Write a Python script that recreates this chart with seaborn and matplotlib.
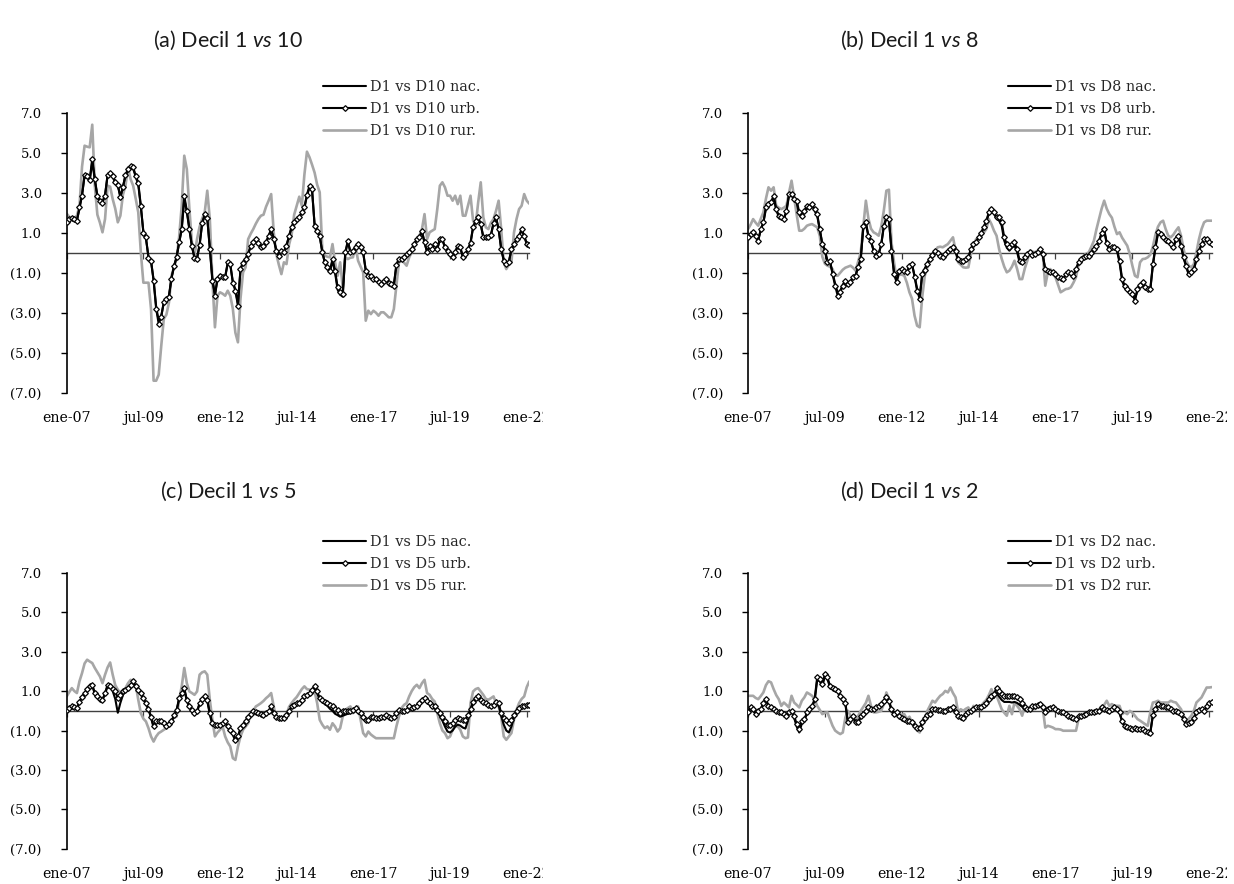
import matplotlib
matplotlib.use("Agg")
import matplotlib.pyplot as plt
import numpy as np
import pandas as pd
import seaborn as sns
from matplotlib.transforms import Bbox, TransformedBbox

# Monthly series, ene-2007 .. feb-2022 (one row per year)
a_nac = [
    1.50, 1.68, 1.75, 1.72, 1.62, 2.20, 2.90, 3.85, 3.80, 3.60, 4.55, 3.65,
    2.80, 2.55, 2.55, 2.90, 3.85, 3.95, 3.80, 3.50, 3.35, 2.80, 3.30, 3.85,
    4.10, 4.30, 4.20, 3.80, 3.40, 2.30, 1.05, 0.70, -0.20, -0.45, -1.35, -2.70,
    -3.40, -3.15, -2.50, -2.35, -2.15, -1.25, -0.70, -0.20, 0.50, 1.15, 2.70, 2.05,
    1.15, 0.30, -0.25, -0.25, 0.40, 1.45, 1.85, 1.70, 0.25, -1.30, -2.10, -1.30,
    -1.10, -1.15, -1.20, -0.55, -0.60, -1.45, -1.85, -2.55, -0.85, -0.45, -0.30, -0.05,
    0.30, 0.50, 0.65, 0.52, 0.30, 0.33, 0.50, 0.82, 1.12, 0.72, 0.12, -0.12,
    0.08, 0.05, 0.38, 0.80, 1.25, 1.50, 1.65, 1.75, 2.00, 2.22, 2.85, 3.25,
    3.10, 1.40, 1.05, 0.80, 0.05, -0.50, -0.80, -0.95, -0.40, -1.00, -1.85, -2.10,
    -2.20, -0.05, 0.55, 0.05, 0.12, 0.25, 0.40, 0.25, 0.00, -0.85, -1.10, -1.12,
    -1.28, -1.30, -1.45, -1.52, -1.38, -1.32, -1.48, -1.55, -1.60, -0.62, -0.32, -0.28,
    -0.20, -0.05, 0.05, 0.20, 0.40, 0.65, 0.75, 1.05, 0.50, 0.05, 0.32, 0.20,
    0.40, 0.20, 0.65, 0.65, 0.25, 0.08, -0.05, -0.20, 0.05, 0.32, 0.25, -0.20,
    -0.05, 0.15, 0.48, 1.25, 1.55, 1.72, 1.40, 0.80, 0.75, 0.78, 0.88, 1.45,
    1.72, 1.15, 0.20, -0.35, -0.52, -0.45, 0.15, 0.40, 0.65, 0.82, 1.12, 0.82,
    0.45, 0.42,
]
a_urb = [
    1.55, 1.70, 1.73, 1.70, 1.60, 2.27, 2.85, 3.90, 3.85, 3.65, 4.70, 3.70,
    2.85, 2.60, 2.50, 2.85, 3.90, 4.00, 3.85, 3.55, 3.40, 2.77, 3.27, 3.90,
    4.18, 4.35, 4.27, 3.85, 3.50, 2.35, 1.00, 0.77, -0.25, -0.40, -1.40, -2.80,
    -3.56, -3.20, -2.45, -2.30, -2.20, -1.30, -0.65, -0.23, 0.52, 1.20, 2.85, 2.10,
    1.20, 0.35, -0.28, -0.30, 0.38, 1.50, 1.92, 1.75, 0.20, -1.40, -2.15, -1.32,
    -1.15, -1.20, -1.23, -0.48, -0.57, -1.50, -1.90, -2.65, -0.80, -0.50, -0.32, -0.07,
    0.35, 0.52, 0.68, 0.50, 0.27, 0.35, 0.52, 0.85, 1.18, 0.70, 0.10, -0.15,
    0.10, 0.02, 0.35, 0.85, 1.30, 1.55, 1.68, 1.80, 2.02, 2.27, 2.90, 3.35,
    3.18, 1.35, 1.10, 0.85, 0.02, -0.48, -0.73, -0.90, -0.32, -0.90, -1.73, -1.98,
    -2.07, 0.02, 0.60, 0.02, 0.10, 0.27, 0.43, 0.27, 0.02, -0.90, -1.15, -1.15,
    -1.32, -1.32, -1.48, -1.57, -1.40, -1.30, -1.50, -1.57, -1.65, -0.60, -0.30, -0.30,
    -0.23, -0.07, 0.02, 0.18, 0.43, 0.68, 0.77, 1.10, 0.52, 0.02, 0.35, 0.18,
    0.43, 0.18, 0.68, 0.68, 0.27, 0.10, -0.07, -0.23, 0.02, 0.35, 0.27, -0.23,
    -0.07, 0.18, 0.50, 1.30, 1.60, 1.77, 1.43, 0.77, 0.77, 0.77, 0.90, 1.50,
    1.77, 1.18, 0.18, -0.40, -0.57, -0.48, 0.18, 0.43, 0.68, 0.85, 1.18, 0.85,
    0.43, 0.40,
]
a_rur = [
    1.95, 1.80, 1.70, 1.75, 1.85, 2.35, 4.30, 5.35, 5.30, 5.27, 6.40, 3.35,
    1.90, 1.50, 1.02, 1.68, 3.35, 3.30, 2.68, 2.20, 1.52, 1.85, 2.90, 3.35,
    4.27, 3.68, 3.35, 2.70, 2.02, 0.02, -1.50, -1.50, -1.50, -2.82, -6.40, -6.40,
    -6.10, -4.65, -3.30, -3.10, -2.50, -1.15, -0.73, -0.30, 0.80, 2.35, 4.85, 4.18,
    2.20, 0.50, -0.15, 0.68, 1.30, 1.70, 2.02, 3.10, 1.68, -1.32, -3.73, -2.15,
    -1.98, -2.05, -2.15, -1.90, -2.15, -2.80, -4.00, -4.48, -2.30, -0.98, -0.73, 0.68,
    0.95, 1.18, 1.45, 1.68, 1.85, 1.90, 2.30, 2.60, 2.93, 1.02, -0.07, -0.60,
    -1.07, -0.48, -0.57, 0.40, 0.90, 1.90, 2.35, 2.80, 2.35, 3.90, 5.05, 4.77,
    4.40, 4.00, 3.40, 3.02, 0.18, -0.15, -0.20, -0.23, 0.43, -0.48, -1.15, -0.48,
    -1.73, -0.23, -0.32, -0.25, -0.23, 0.35, -0.40, -0.70, -0.98, -3.40, -2.90, -3.07,
    -2.90, -3.00, -3.15, -2.98, -2.98, -3.10, -3.23, -3.23, -2.82, -1.65, -0.48, -0.40,
    -0.50, -0.65, -0.23, 0.02, 0.40, 0.68, 0.85, 1.18, 1.93, 0.68, 1.02, 1.10,
    1.18, 2.18, 3.35, 3.52, 3.27, 2.85, 2.85, 2.60, 2.85, 2.43, 2.85, 1.85,
    1.85, 2.35, 2.85, 1.60, 1.35, 2.52, 3.52, 1.77, 1.27, 1.18, 1.50, 1.68,
    2.10, 2.60, 1.18, -0.48, -0.82, -0.60, -0.48, 1.00, 1.68, 2.18, 2.35, 2.93,
    2.60, 2.45,
]

b_nac = [
    0.80, 0.95, 1.00, 0.82, 0.65, 1.15, 1.50, 2.20, 2.40, 2.50, 2.80, 2.15,
    1.80, 1.72, 1.70, 2.05, 2.85, 2.90, 2.60, 2.50, 1.90, 1.75, 2.00, 2.25,
    2.20, 2.35, 2.10, 1.85, 1.15, 0.45, 0.15, -0.40, -0.45, -1.00, -1.55, -2.00,
    -1.90, -1.60, -1.42, -1.50, -1.45, -1.20, -1.10, -0.70, -0.30, 1.25, 1.45, 0.80,
    0.55, 0.12, -0.12, -0.05, 0.40, 1.30, 1.70, 1.60, 0.15, -1.00, -1.40, -0.95,
    -0.85, -0.92, -1.00, -0.70, -0.60, -1.15, -1.80, -2.20, -1.05, -0.80, -0.50, -0.28,
    -0.08, 0.05, 0.02, -0.12, -0.20, -0.05, 0.08, 0.18, 0.25, 0.05, -0.35, -0.45,
    -0.42, -0.35, -0.25, 0.15, 0.40, 0.50, 0.75, 0.95, 1.25, 1.55, 1.95, 2.10,
    1.95, 1.70, 1.60, 1.35, 0.60, 0.25, 0.10, 0.25, 0.35, 0.05, -0.50, -0.55,
    -0.25, -0.10, 0.00, -0.12, -0.10, 0.02, 0.15, -0.10, -0.85, -0.92, -0.98, -1.02,
    -1.10, -1.22, -1.28, -1.35, -1.10, -1.02, -1.05, -1.18, -0.85, -0.50, -0.32, -0.22,
    -0.18, -0.15, 0.02, 0.18, 0.32, 0.55, 0.95, 1.10, 0.45, 0.12, 0.20, 0.20,
    0.10, -0.50, -1.40, -1.75, -1.90, -2.05, -2.15, -2.30, -1.90, -1.70, -1.55, -1.80,
    -1.85, -1.85, -0.65, 0.25, 0.95, 0.90, 0.72, 0.62, 0.55, 0.40, 0.25, 0.62,
    0.80, 0.30, -0.28, -0.70, -1.10, -1.02, -0.85, -0.35, 0.08, 0.40, 0.65, 0.65,
    0.50, 0.42,
]
b_urb = [
    0.77, 0.93, 1.02, 0.85, 0.60, 1.18, 1.52, 2.27, 2.43, 2.52, 2.85, 2.18,
    1.85, 1.77, 1.68, 2.10, 2.93, 2.93, 2.68, 2.60, 2.02, 1.85, 2.10, 2.35,
    2.27, 2.43, 2.18, 1.93, 1.18, 0.43, 0.10, -0.48, -0.40, -1.07, -1.65, -2.15,
    -1.98, -1.65, -1.40, -1.57, -1.48, -1.23, -1.15, -0.73, -0.32, 1.35, 1.52, 0.85,
    0.60, 0.10, -0.15, -0.07, 0.43, 1.35, 1.77, 1.68, 0.10, -1.07, -1.48, -0.90,
    -0.82, -0.90, -0.98, -0.65, -0.55, -1.20, -1.90, -2.30, -1.07, -0.85, -0.55, -0.30,
    -0.10, 0.10, 0.00, -0.15, -0.23, -0.07, 0.10, 0.20, 0.27, 0.10, -0.32, -0.40,
    -0.40, -0.32, -0.23, 0.20, 0.43, 0.52, 0.80, 1.00, 1.30, 1.60, 2.02, 2.18,
    2.02, 1.77, 1.77, 1.52, 0.77, 0.43, 0.27, 0.43, 0.52, 0.18, -0.40, -0.48,
    -0.20, -0.07, 0.02, -0.10, -0.07, 0.05, 0.18, -0.07, -0.82, -0.90, -0.95, -0.98,
    -1.07, -1.20, -1.25, -1.32, -1.07, -0.98, -1.00, -1.15, -0.82, -0.48, -0.30, -0.20,
    -0.15, -0.15, 0.00, 0.20, 0.35, 0.60, 1.00, 1.18, 0.50, 0.18, 0.27, 0.27,
    0.18, -0.40, -1.30, -1.65, -1.82, -1.98, -2.07, -2.40, -1.82, -1.60, -1.48, -1.73,
    -1.82, -1.82, -0.57, 0.30, 1.02, 0.93, 0.77, 0.65, 0.60, 0.43, 0.27, 0.68,
    0.85, 0.35, -0.23, -0.65, -1.07, -0.98, -0.82, -0.32, 0.10, 0.43, 0.68, 0.68,
    0.52, 0.45,
]
b_rur = [
    1.18, 1.40, 1.68, 1.50, 1.35, 1.70, 2.02, 2.70, 3.27, 3.10, 3.27, 2.35,
    2.25, 2.18, 2.25, 2.35, 3.00, 3.60, 2.77, 1.90, 1.10, 1.10, 1.20, 1.35,
    1.40, 1.43, 1.35, 1.27, 0.85, -0.20, -0.55, -0.65, -0.70, -0.82, -1.15, -1.15,
    -1.00, -0.85, -0.75, -0.70, -0.65, -0.75, -0.90, -0.45, 0.02, 1.30, 2.60, 1.70,
    1.20, 1.02, 0.95, 0.85, 1.30, 2.10, 3.10, 3.15, 0.52, -0.50, -1.32, -1.10,
    -1.10, -1.15, -1.50, -1.98, -2.30, -3.15, -3.65, -3.73, -2.20, -1.15, -0.70, -0.40,
    -0.15, 0.05, 0.27, 0.30, 0.27, 0.35, 0.43, 0.60, 0.77, 0.10, -0.48, -0.60,
    -0.73, -0.75, -0.73, -0.07, 0.30, 0.68, 0.75, 0.85, 1.00, 1.18, 1.68, 1.43,
    1.10, 0.85, 0.18, -0.30, -0.70, -0.98, -0.90, -0.70, -0.40, -0.80, -1.32, -1.32,
    -0.80, -0.40, 0.10, 0.05, 0.02, 0.10, 0.18, 0.02, -1.65, -1.00, -0.82, -1.07,
    -1.23, -1.60, -1.98, -1.90, -1.82, -1.80, -1.73, -1.50, -1.23, -0.60, -0.30, -0.15,
    -0.05, 0.02, 0.30, 0.60, 1.18, 1.70, 2.20, 2.60, 2.20, 1.93, 1.75, 1.30,
    0.93, 1.02, 0.75, 0.55, 0.35, -0.07, -0.65, -1.15, -1.23, -0.48, -0.32, -0.30,
    -0.23, -0.10, 0.30, 0.90, 1.30, 1.52, 1.60, 1.18, 0.85, 0.77, 0.90, 1.10,
    1.27, 0.85, 0.18, -0.40, -0.65, -0.73, -0.57, 0.02, 0.68, 1.18, 1.52, 1.60,
    1.60, 1.60,
]

c_nac = [
    0.08, 0.12, 0.20, 0.15, 0.12, 0.45, 0.65, 0.88, 1.05, 1.20, 1.28, 0.85,
    0.70, 0.55, 0.55, 0.85, 1.25, 1.20, 1.00, 0.60, -0.10, 0.40, 0.80, 1.00,
    1.10, 1.25, 1.40, 1.20, 1.00, 0.85, 0.60, 0.35, 0.05, -0.35, -0.85, -0.60,
    -0.60, -0.60, -0.70, -0.85, -0.70, -0.58, -0.25, 0.00, 0.60, 0.85, 1.10, 0.50,
    0.18, 0.00, -0.15, -0.05, 0.35, 0.55, 0.70, 0.50, -0.18, -0.70, -0.78, -0.75,
    -0.75, -0.68, -0.60, -0.85, -1.00, -1.20, -1.55, -1.35, -0.92, -0.75, -0.55, -0.32,
    -0.18, -0.05, -0.08, -0.15, -0.18, -0.22, -0.12, -0.05, 0.18, -0.15, -0.32, -0.40,
    -0.40, -0.38, -0.22, -0.05, 0.18, 0.25, 0.35, 0.35, 0.50, 0.65, 0.72, 0.82,
    0.95, 1.15, 0.90, 0.55, 0.45, 0.35, 0.25, 0.10, 0.00, -0.15, -0.22, -0.30,
    -0.25, -0.20, -0.15, -0.12, -0.05, 0.05, -0.10, -0.18, -0.38, -0.55, -0.55, -0.38,
    -0.38, -0.45, -0.45, -0.40, -0.35, -0.28, -0.35, -0.42, -0.35, -0.18, 0.00, -0.08,
    -0.05, 0.00, 0.15, 0.10, 0.15, 0.18, 0.32, 0.48, 0.55, 0.42, 0.30, 0.15,
    0.12, -0.05, -0.25, -0.50, -0.80, -1.05, -1.10, -1.00, -0.80, -0.70, -0.75, -0.85,
    -0.90, -0.50, 0.00, 0.35, 0.55, 0.65, 0.48, 0.40, 0.30, 0.22, 0.15, 0.22,
    0.40, 0.30, -0.25, -0.70, -1.00, -1.10, -0.80, -0.35, -0.10, 0.05, 0.15, 0.18,
    0.25, 0.25,
]
c_urb = [
    0.05, 0.15, 0.22, 0.18, 0.14, 0.47, 0.70, 0.90, 1.10, 1.24, 1.32, 0.90,
    0.75, 0.60, 0.56, 0.90, 1.32, 1.24, 1.10, 0.98, 0.64, 0.81, 0.98, 1.05,
    1.15, 1.30, 1.49, 1.25, 1.07, 0.90, 0.64, 0.39, 0.10, -0.29, -0.79, -0.54,
    -0.54, -0.54, -0.63, -0.79, -0.65, -0.54, -0.20, 0.05, 0.64, 0.90, 1.15, 0.56,
    0.22, 0.05, -0.12, -0.03, 0.39, 0.60, 0.73, 0.56, -0.12, -0.63, -0.71, -0.70,
    -0.71, -0.63, -0.54, -0.79, -0.95, -1.13, -1.47, -1.30, -0.88, -0.70, -0.50, -0.29,
    -0.15, -0.03, -0.05, -0.12, -0.15, -0.20, -0.10, -0.03, 0.22, -0.12, -0.30, -0.37,
    -0.37, -0.35, -0.20, -0.03, 0.22, 0.30, 0.39, 0.39, 0.55, 0.73, 0.80, 0.90,
    1.05, 1.24, 0.98, 0.65, 0.56, 0.47, 0.38, 0.30, 0.22, 0.10, 0.05, -0.12,
    -0.03, -0.03, -0.03, -0.03, 0.05, 0.14, -0.03, -0.10, -0.29, -0.46, -0.46, -0.29,
    -0.30, -0.37, -0.37, -0.33, -0.29, -0.20, -0.29, -0.37, -0.30, -0.12, 0.05, -0.03,
    0.00, 0.05, 0.22, 0.14, 0.20, 0.22, 0.39, 0.56, 0.64, 0.50, 0.39, 0.22,
    0.22, 0.05, -0.12, -0.29, -0.54, -0.71, -0.71, -0.63, -0.46, -0.37, -0.40, -0.46,
    -0.46, -0.20, 0.10, 0.45, 0.64, 0.73, 0.55, 0.47, 0.39, 0.30, 0.22, 0.30,
    0.47, 0.39, -0.12, -0.35, -0.46, -0.63, -0.46, -0.20, -0.03, 0.14, 0.22, 0.22,
    0.30, 0.28,
]
c_rur = [
    0.73, 0.95, 1.15, 1.00, 0.90, 1.50, 1.91, 2.40, 2.59, 2.50, 2.42, 2.17,
    1.95, 1.74, 1.40, 1.83, 2.20, 2.45, 1.83, 1.30, 1.07, 0.90, 1.00, 1.15,
    1.40, 1.57, 1.45, 1.32, 0.56, -0.12, -0.40, -0.54, -0.88, -1.30, -1.56, -1.30,
    -1.13, -1.05, -0.96, -0.88, -0.63, -0.46, -0.35, -0.29, 0.56, 1.24, 2.17, 1.40,
    0.98, 0.90, 0.81, 0.98, 1.83, 1.95, 2.00, 1.83, 0.56, -0.46, -1.30, -1.10,
    -0.96, -0.79, -1.30, -1.60, -1.81, -2.40, -2.49, -1.81, -1.30, -0.96, -0.80, -0.63,
    -0.12, 0.00, 0.22, 0.30, 0.39, 0.50, 0.64, 0.75, 0.90, 0.22, -0.37, -0.40,
    -0.46, -0.35, -0.20, 0.20, 0.39, 0.56, 0.70, 0.90, 1.10, 1.24, 1.10, 1.07,
    1.00, 0.98, 0.39, -0.46, -0.70, -0.88, -0.79, -0.96, -0.63, -0.80, -1.05, -0.88,
    -0.29, 0.05, 0.14, 0.22, -0.12, 0.00, 0.22, -0.46, -1.13, -1.30, -1.05, -1.20,
    -1.30, -1.39, -1.39, -1.39, -1.39, -1.39, -1.39, -1.39, -1.39, -0.79, -0.29, 0.14,
    0.30, 0.39, 0.73, 1.00, 1.20, 1.32, 1.15, 1.40, 1.57, 0.90, 0.81, 0.60,
    0.47, -0.12, -0.63, -1.00, -1.13, -1.39, -1.30, -0.96, -0.80, -0.79, -0.96, -1.30,
    -1.39, -1.35, 0.39, 0.98, 1.10, 1.15, 0.98, 0.81, 0.60, 0.56, 0.64, 0.73,
    0.40, 0.22, -0.29, -1.30, -1.47, -1.30, -1.13, -0.46, 0.05, 0.39, 0.60, 0.73,
    1.20, 1.49,
]

d_nac = [
    -0.10, 0.12, 0.05, -0.20, -0.05, 0.05, 0.38, 0.55, 0.22, 0.12, 0.05, -0.05,
    -0.12, -0.12, -0.22, -0.30, -0.12, -0.05, -0.35, -0.80, -1.10, -0.65, -0.50, -0.15,
    0.05, 0.20, 0.50, 1.55, 1.50, 1.25, 1.75, 1.60, 1.20, 1.10, 1.00, 0.95,
    0.70, 0.52, 0.35, -0.65, -0.50, -0.30, -0.62, -0.62, -0.30, -0.20, -0.05, 0.12,
    0.05, 0.05, 0.12, 0.20, 0.30, 0.45, 0.62, 0.45, 0.05, -0.20, -0.12, -0.30,
    -0.38, -0.45, -0.55, -0.55, -0.62, -0.80, -0.90, -0.88, -0.62, -0.38, -0.25, -0.20,
    0.05, 0.05, 0.02, 0.02, -0.03, -0.03, 0.05, 0.08, 0.12, -0.10, -0.28, -0.33,
    -0.36, -0.20, -0.10, -0.03, 0.05, 0.12, 0.12, 0.15, 0.25, 0.35, 0.50, 0.62,
    0.65, 0.90, 0.72, 0.55, 0.45, 0.45, 0.45, 0.42, 0.45, 0.40, 0.30, 0.20,
    0.05, 0.05, 0.05, 0.20, 0.22, 0.25, 0.30, 0.12, -0.12, 0.05, 0.08, 0.12,
    0.05, -0.03, -0.08, -0.12, -0.20, -0.28, -0.33, -0.38, -0.45, -0.28, -0.28, -0.22,
    -0.20, -0.10, -0.10, -0.08, -0.03, -0.03, 0.12, 0.05, 0.02, -0.03, 0.05, 0.12,
    0.05, -0.12, -0.55, -0.80, -0.85, -0.90, -0.98, -0.90, -0.95, -0.98, -0.98, -1.05,
    -1.08, -1.12, -0.25, 0.05, 0.30, 0.22, 0.22, 0.18, 0.15, 0.05, -0.03, -0.03,
    -0.08, -0.20, -0.45, -0.72, -0.65, -0.62, -0.38, -0.12, 0.02, 0.05, -0.03, 0.20,
    0.38, 0.40,
]
d_urb = [
    -0.08, 0.17, 0.08, -0.17, 0.00, 0.08, 0.42, 0.59, 0.25, 0.17, 0.08, 0.00,
    -0.08, -0.08, -0.17, -0.25, -0.08, 0.00, -0.25, -0.68, -0.93, -0.51, -0.42, -0.08,
    0.08, 0.25, 0.59, 1.69, 1.61, 1.35, 1.86, 1.69, 1.27, 1.18, 1.10, 1.01,
    0.76, 0.59, 0.42, -0.59, -0.42, -0.25, -0.59, -0.59, -0.25, -0.17, 0.00, 0.17,
    0.08, 0.08, 0.17, 0.25, 0.34, 0.51, 0.68, 0.51, 0.08, -0.17, -0.08, -0.25,
    -0.34, -0.42, -0.51, -0.51, -0.59, -0.76, -0.85, -0.85, -0.59, -0.34, -0.20, -0.17,
    0.08, 0.08, 0.05, 0.05, 0.00, 0.00, 0.08, 0.10, 0.17, -0.08, -0.25, -0.30,
    -0.34, -0.17, -0.08, 0.00, 0.08, 0.17, 0.17, 0.20, 0.30, 0.42, 0.59, 0.76,
    0.85, 1.18, 1.01, 0.85, 0.76, 0.76, 0.76, 0.73, 0.76, 0.70, 0.59, 0.42,
    0.17, 0.10, 0.08, 0.25, 0.25, 0.30, 0.34, 0.17, -0.08, 0.08, 0.12, 0.17,
    0.08, 0.00, -0.05, -0.08, -0.17, -0.25, -0.30, -0.34, -0.42, -0.25, -0.25, -0.20,
    -0.17, -0.08, -0.08, -0.05, 0.00, 0.00, 0.17, 0.08, 0.05, 0.00, 0.08, 0.17,
    0.10, -0.08, -0.51, -0.76, -0.80, -0.85, -0.93, -0.85, -0.90, -0.93, -0.93, -1.01,
    -1.05, -1.10, -0.20, 0.08, 0.34, 0.25, 0.25, 0.20, 0.17, 0.08, 0.00, 0.00,
    -0.05, -0.17, -0.42, -0.68, -0.60, -0.59, -0.34, -0.08, 0.05, 0.08, 0.00, 0.25,
    0.42, 0.45,
]
d_rur = [
    0.76, 0.76, 0.76, 0.65, 0.59, 0.75, 0.93, 1.30, 1.50, 1.44, 1.10, 0.80,
    0.59, 0.25, 0.42, 0.30, 0.17, 0.76, 0.42, 0.30, 0.17, 0.51, 0.68, 0.93,
    0.85, 0.76, 0.59, 0.25, 0.05, -0.17, -0.10, -0.08, -0.42, -0.76, -1.00, -1.10,
    -1.18, -1.10, -0.34, 0.00, -0.25, -0.50, -0.59, -0.25, 0.00, 0.20, 0.40, 0.76,
    0.25, -0.08, -0.08, -0.05, 0.00, 0.34, 0.93, 0.60, -0.08, -0.12, -0.17, -0.25,
    -0.20, -0.17, -0.42, -0.30, -0.59, -0.80, -1.00, -1.10, -0.70, -0.42, 0.00, 0.25,
    0.51, 0.42, 0.60, 0.76, 0.85, 1.01, 0.93, 1.18, 0.90, 0.68, -0.08, 0.08,
    0.00, 0.10, 0.17, -0.08, 0.25, 0.17, 0.20, 0.25, 0.42, 0.55, 0.80, 1.10,
    0.76, 0.76, 0.42, 0.08, -0.10, -0.25, 0.25, -0.17, 0.42, 0.25, 0.08, -0.25,
    0.25, 0.10, 0.08, 0.17, 0.08, 0.20, 0.25, 0.17, -0.85, -0.76, -0.80, -0.85,
    -0.93, -0.93, -0.95, -1.01, -1.01, -1.01, -1.01, -1.01, -1.01, -0.42, -0.34, -0.30,
    -0.25, -0.17, -0.10, -0.08, 0.00, 0.08, 0.20, 0.30, 0.51, 0.25, 0.34, 0.25,
    0.25, 0.25, -0.17, -0.08, -0.17, 0.00, -0.10, -0.25, -0.42, -0.50, -0.59, -0.68,
    -0.76, -0.08, 0.42, 0.45, 0.51, 0.42, 0.42, 0.42, 0.42, 0.51, 0.45, 0.42,
    0.25, 0.08, -0.25, -0.51, -0.40, -0.25, 0.00, 0.42, 0.55, 0.68, 0.93, 1.18,
    1.18, 1.20,
]

titles = ["(a) Decil 1 $\\mathit{vs}$ 10", "(b) Decil 1 $\\mathit{vs}$ 8",
          "(c) Decil 1 $\\mathit{vs}$ 5", "(d) Decil 1 $\\mathit{vs}$ 2"]
deciles = ["D10", "D8", "D5", "D2"]
tick_months = [0, 30, 60, 90, 120, 150, 180]
tick_labels = ["ene-07", "jul-09", "ene-12", "jul-14", "ene-17", "jul-19", "ene-22"]
y_ticks = [-7, -5, -3, -1, 1, 3, 5, 7]
y_labels = ["(7.0)", "(5.0)", "(3.0)", "(1.0)", "1.0", "3.0", "5.0", "7.0"]

series = [(a_nac, a_urb, a_rur), (b_nac, b_urb, b_rur),
          (c_nac, c_urb, c_rur), (d_nac, d_urb, d_rur)]

sns.set_theme(style="white")
plt.rcParams["font.family"] = ["DejaVu Serif"]
plt.rcParams["mathtext.fontset"] = "custom"
plt.rcParams["mathtext.rm"] = "Lato"
plt.rcParams["mathtext.it"] = "Lato:italic"

W, H = 1234, 884
fig = plt.figure(figsize=(W / 100, H / 100), dpi=100)
fig.patch.set_facecolor("white")

# axes rectangles in pixels: (left, top, width, height)
rects = [(66.7, 112.7, 462.6, 280.0), (748.0, 112.7, 463.8, 280.0),
         (66.7, 572.7, 462.6, 276.2), (748.0, 572.7, 463.8, 276.2)]
legend_xy = [(323, 80), (1008, 80), (323, 535), (1008, 535)]
title_xy = [(228, 40), (909, 40), (228, 491), (909, 491)]
clip_x = [543, 1227, 543, 1227]

GRAY = "#A6A6A6"

for i, (nac, urb, rur) in enumerate(series):
    l, t, w, h = rects[i]
    ax = fig.add_axes([l / W, 1 - (t + h) / H, w / W, h / H])
    ax.set_facecolor("white")
    n = len(urb)
    df = pd.DataFrame({"mes": np.arange(n), "nac": nac, "urb": urb, "rur": rur})
    d = deciles[i]

    sns.lineplot(data=df, x="mes", y="rur", ax=ax, color=GRAY, lw=1.9,
                 label=f"D1 vs {d} rur.", zorder=2)
    sns.lineplot(data=df, x="mes", y="nac", ax=ax, color="black", lw=1.5,
                 label=f"D1 vs {d} nac.", zorder=3)
    sns.lineplot(data=df, x="mes", y="urb", ax=ax, color="black", lw=1.5,
                 marker="D", markersize=2.9, markerfacecolor="white",
                 markeredgecolor="black", markeredgewidth=0.9,
                 label=f"D1 vs {d} urb.", zorder=4)

    ax.set_xlim(0, 181)
    ax.set_ylim(-7, 7)
    ax.set_xlabel("")
    ax.set_ylabel("")

    for s in ["top", "right", "bottom"]:
        ax.spines[s].set_visible(False)
    ax.spines["left"].set_color("black")
    ax.spines["left"].set_linewidth(1.2)

    ax.set_yticks(y_ticks)
    ax.set_yticklabels(y_labels)
    ax.tick_params(axis="y", direction="out", length=4, width=1.0, color="black",
                   pad=14, labelsize=9.5, labelcolor="black", left=True)
    ax.set_xticks(tick_months)
    ax.set_xticklabels(tick_labels)
    ax.tick_params(axis="x", length=0, pad=13, labelsize=10.2, labelcolor="black")

    # zero line with its own small tick marks
    sec = ax.secondary_xaxis(0.5)
    sec.set_xticks(tick_months)
    sec.set_xticklabels([])
    sec.tick_params(axis="x", direction="in", length=4, width=0.9, color="#404040")
    for s in sec.spines.values():
        s.set_color("#404040")
        s.set_linewidth(1.0)

    handles, labels = ax.get_legend_handles_labels()
    order = [labels.index(f"D1 vs {d} nac."), labels.index(f"D1 vs {d} urb."),
             labels.index(f"D1 vs {d} rur.")]
    lx, ly = legend_xy[i]
    ax.legend([handles[k] for k in order], [labels[k] for k in order],
              loc="upper left", bbox_to_anchor=(lx / W, 1 - ly / H),
              bbox_transform=fig.transFigure, frameon=False, fontsize=10.4,
              handlelength=3.0, handletextpad=0.25, labelspacing=0.55,
              borderpad=0, borderaxespad=0, numpoints=1)

    tx, ty = title_xy[i]
    fig.text(tx / W, 1 - ty / H, titles[i], ha="center", va="center",
             fontsize=15.5, family="Lato", color="#1a1a1a")

    last = ax.get_xticklabels()[-1]
    last.set_clip_on(True)
    last.set_clip_box(TransformedBbox(Bbox([[0, 0], [clip_x[i] / W, 1]]),
                                      fig.transFigure))

fig.savefig("out.png", dpi=100, facecolor="white")
